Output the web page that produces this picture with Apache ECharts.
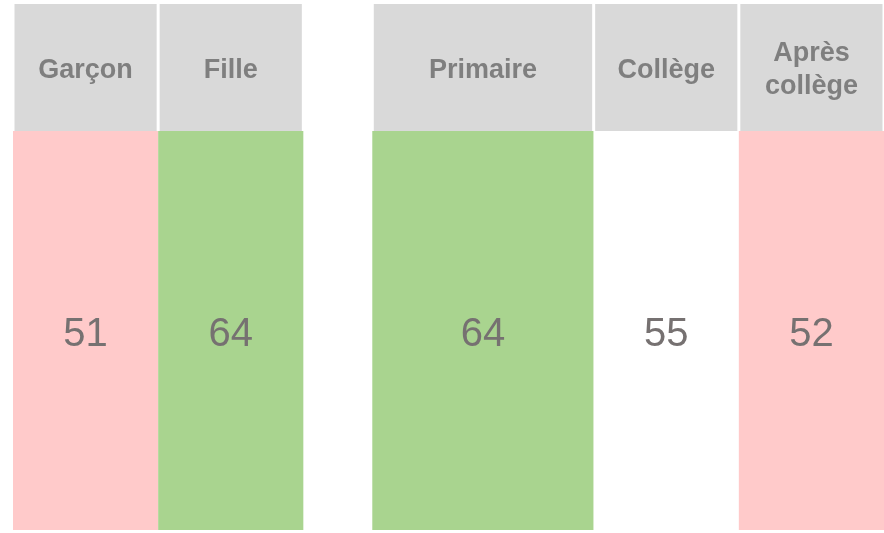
<!DOCTYPE html>
<html>
<head>
<meta charset="utf-8">
<script src="https://cdn.jsdelivr.net/npm/echarts@6/dist/echarts.min.js"></script>
<style>
  html, body { margin: 0; padding: 0; background: #ffffff; }
  #chart { width: 884px; height: 533px; }
</style>
</head>
<body>
<div id="chart"></div>
<script>
// ---- data ----
const headers = ['Garçon', 'Fille', 'Primaire', 'Collège', 'Après\ncollège'];
const values = [51, 64, 64, 55, 52];
const ratings = ['low', 'high', 'high', 'mid', 'low'];
const groups = [0, 0, 1, 1, 1];

// ---- style / layout ----
const ratingColors = { low: '#ffcaca', high: '#a9d48f', mid: '#ffffff' };
const colUnits = [1, 1, 1.525, 1, 1];
const groupGap = 0.475;
const headerFrac = 127 / 526;

// compute column spans (in x-axis units)
const spans = [];
let cursor = 0;
for (let i = 0; i < headers.length; i++) {
  if (i > 0 && groups[i] !== groups[i - 1]) cursor += groupGap;
  spans.push([cursor, cursor + colUnits[i]]);
  cursor += colUnits[i];
}
const xMax = cursor;

const headerData = headers.map((h, i) => ({ value: [spans[i][0], spans[i][1]], name: h }));
const bodyData = values.map((v, i) => ({ value: [spans[i][0], spans[i][1], v], rating: ratings[i] }));

const chart = echarts.init(document.getElementById('chart'), null, { renderer: 'canvas' });

chart.setOption({
  animation: false,
  backgroundColor: '#ffffff',
  grid: { left: 13, right: 0, top: 4, bottom: 3 },
  xAxis: { type: 'value', min: 0, max: xMax, show: false },
  yAxis: { type: 'value', min: 0, max: 1, inverse: true, show: false },
  series: [
    {
      type: 'custom',
      data: headerData,
      renderItem: function (params, api) {
        const p0 = api.coord([api.value(0), 0]);
        const p1 = api.coord([api.value(1), headerFrac]);
        const name = headerData[params.dataIndex].name;
        return {
          type: 'group',
          children: [
            {
              type: 'rect',
              shape: { x: p0[0] + 1.5, y: p0[1], width: p1[0] - p0[0] - 3, height: p1[1] - p0[1] },
              style: { fill: '#d9d9d9' }
            },
            {
              type: 'text',
              x: (p0[0] + p1[0]) / 2,
              y: (p0[1] + p1[1]) / 2 + 3,
              style: {
                text: name,
                fill: '#7f7f7f',
                font: 'bold 27px "Liberation Sans", Arial, sans-serif',
                align: 'center',
                verticalAlign: 'middle',
                lineHeight: 33
              }
            }
          ]
        };
      }
    },
    {
      type: 'custom',
      data: bodyData,
      renderItem: function (params, api) {
        const p0 = api.coord([api.value(0), headerFrac]);
        const p1 = api.coord([api.value(1), 1]);
        const item = bodyData[params.dataIndex];
        return {
          type: 'group',
          children: [
            {
              type: 'rect',
              shape: { x: p0[0], y: p0[1], width: p1[0] - p0[0], height: p1[1] - p0[1] },
              style: { fill: ratingColors[item.rating] }
            },
            {
              type: 'text',
              x: (p0[0] + p1[0]) / 2,
              y: (p0[1] + p1[1]) / 2 + 4,
              style: {
                text: String(api.value(2)),
                fill: '#767171',
                font: '40px "Liberation Sans", Arial, sans-serif',
                align: 'center',
                verticalAlign: 'middle'
              }
            }
          ]
        };
      }
    }
  ]
});
</script>
</body>
</html>
